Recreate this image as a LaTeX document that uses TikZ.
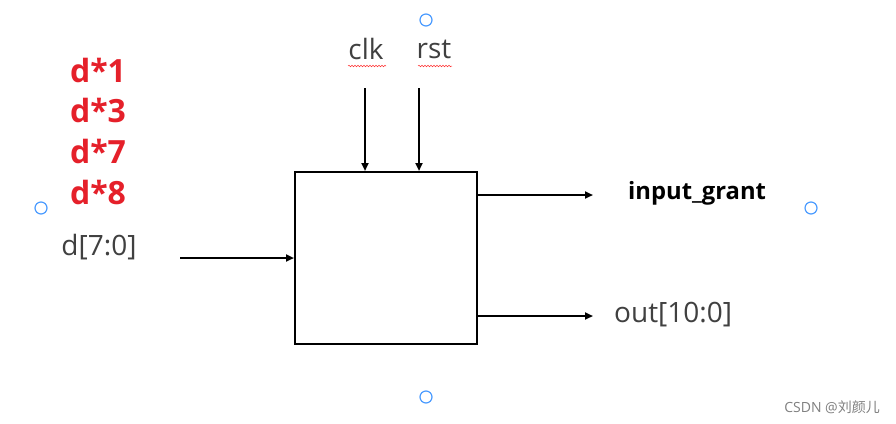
\documentclass[tikz,border=0pt]{standalone}
\usepackage{fontspec}
\setmainfont{Open Sans}
\newfontfamily\cjk{Noto Sans CJK SC}
\usetikzlibrary{arrows.meta,decorations.pathmorphing}
\definecolor{sigred}{HTML}{E5202A}
\definecolor{labgray}{HTML}{404040}
\definecolor{handle}{HTML}{4A9BFF}
\begin{document}
\begin{tikzpicture}[x=1pt,y=-1pt,
  wire/.style={line width=2pt,-{Triangle[length=8pt,width=7pt]}},
  lab/.style={text=labgray,font=\fontsize{28}{28}\selectfont,inner sep=0pt},
  mult/.style={text=sigred,font=\bfseries\fontsize{32}{32}\selectfont,inner sep=0pt},
  hdl/.style={circle,draw=handle,line width=1.2pt,minimum size=12pt,inner sep=0pt},
  spell/.style={draw=red!80,line width=0.5pt,decorate,decoration={snake,amplitude=0.8pt,segment length=3pt}}]
\useasboundingbox[fill=white] (0,0) rectangle (896,423);
% block
\node[draw,line width=2pt,minimum width=182pt,minimum height=172pt,inner sep=0pt] (blk) at (386,258) {};
% top inputs
\node[lab] (clk) at (366,49) {clk};
\node[lab] (rst) at (434,49) {rst};
\draw[spell] (348,66) -- (386,66);
\draw[spell] (418,66) -- (452,66);
\coordinate (clks) at (365,88);
\coordinate (rsts) at (419,88);
\draw[wire] (clks) -- (clks |- blk.north);
\draw[wire] (rsts) -- (rsts |- blk.north);
% left input
\node[mult] (m1) at (98,70) {d*1};
\node[mult] (m3) at (98,110) {d*3};
\node[mult] (m7) at (98,151) {d*7};
\node[mult] (m8) at (98,192) {d*8};
\node[lab] (d) at (99,247) {d[7:0]};
\coordinate (ds) at (180,258);
\draw[wire] (ds) -- (ds -| blk.west);
% outputs
\coordinate (g0) at (477,195);
\coordinate (g1) at (593,195);
\coordinate (o0) at (477,316);
\coordinate (o1) at (593,316);
\draw[wire] (g0) -- (g1);
\draw[wire] (o0) -- (o1);
\node[font=\bfseries\fontsize{23.8}{24}\selectfont,inner sep=0pt,anchor=west] (ig) at (628,193) {input\_grant};
\node[lab,anchor=west] (out) at (614,315) {out[10:0]};
% handles
\node[hdl] (h1) at (426,20) {};
\node[hdl] (h2) at (41,208) {};
\node[hdl] (h3) at (811,208) {};
\node[hdl] (h4) at (426,397) {};
% watermark
\node[text=gray,font=\fontsize{14}{14}\selectfont,inner sep=0pt,anchor=east] (wm) at (880,407) {CSDN @{\cjk 刘颜儿}};
\end{tikzpicture}
\end{document}
